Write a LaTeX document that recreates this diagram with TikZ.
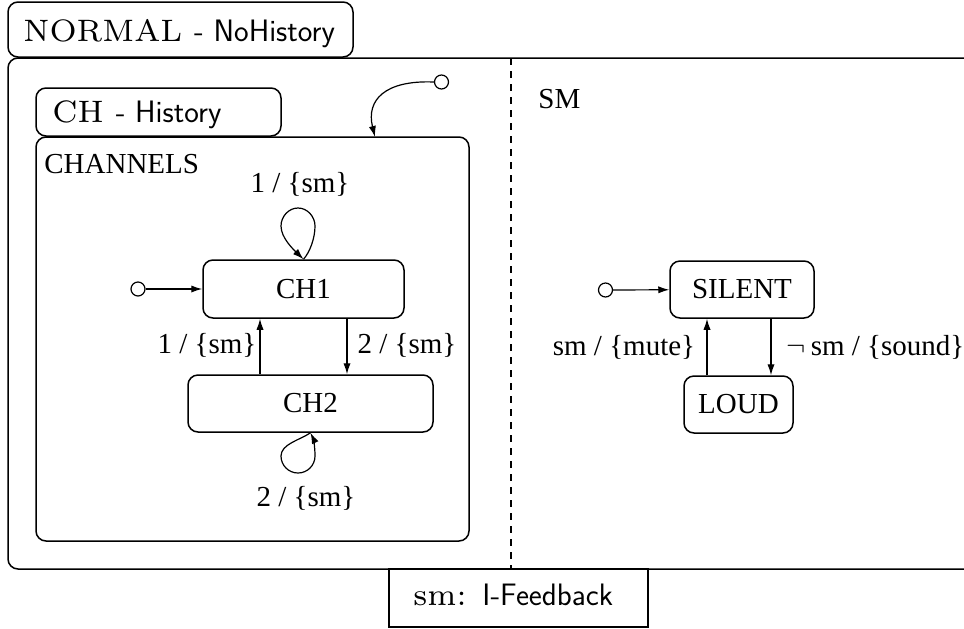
\documentclass[tikz,border=0pt]{standalone}
\usepackage{fontspec}
\newfontfamily\tnr{Liberation Serif}
\newfontfamily\cmrs{lmroman7-regular.otf}
\usetikzlibrary{arrows.meta}
\newcommand{\lblfont}{\tnr\fontsize{14.5}{17}\selectfont}
\newcommand{\ttlfont}{\fontsize{15.5}{19}\selectfont}
\tikzset{
  box/.style={draw, rounded corners=5pt, line width=0.75pt, inner sep=0pt},
  state/.style={box, font=\lblfont},
  initc/.style={draw, circle, minimum size=7pt, inner sep=0pt, line width=0.6pt},
  tr/.style={-{Latex[length=5.5pt,width=3.6pt]}, line width=0.6pt},
  lbl/.style={font=\lblfont, inner sep=0pt},
  ttl/.style={font=\ttlfont, inner sep=0pt, anchor=base west},
}
\begin{document}
\begin{tikzpicture}[x=0.5pt,y=-0.5pt]
\useasboundingbox (0,0) rectangle (964,628);
% outer boxes
\node[box, minimum width=172.5pt, minimum height=27.5pt] (normal) at (180.5,29.5) {};
\node[ttl] (normaltxt) at (23,41) {\cmrs NORMAL \sffamily - NoHistory};
\node[box, minimum width=496pt, minimum height=255.5pt] (outer) at (504,313.5) {};
\coordinate (dtop) at (511,58);
\coordinate (dbot) at (511,569);
\draw[dash pattern=on 3.5pt off 3pt, line width=0.6pt] (dtop) -- (dbot);
% left region
\node[box, minimum width=122.5pt, minimum height=24pt] (chlbl) at (158.5,112) {};
\node[ttl] (chtxt) at (52,122) {\cmrs CH \sffamily - History};
\node[box, minimum width=216.5pt, minimum height=202pt] (channels) at (252.5,339) {};
\node[lbl, anchor=base west] (chname) at (44,173) {CHANNELS};
\node[initc] (i1) at (441.5,82) {};
\coordinate (chentry) at (375,137);
\draw[tr] (i1.west) .. controls (385,80) and (366,100) .. (chentry);
\node[state, minimum width=100.5pt, minimum height=29pt] (ch1) at (303.5,289) {CH1};
\node[state, minimum width=122.5pt, minimum height=28.5pt] (ch2) at (310.5,403.5) {CH2};
\node[initc] (i2) at (138,289) {};
\draw[tr] (i2) -- (ch1);
\coordinate (xa) at (260,0);
\coordinate (xb) at (347,0);
\draw[tr] (ch2.north -| xa) -- (ch1.south -| xa);
\draw[tr] (ch1.south -| xb) -- (ch2.north -| xb);
\draw[tr] (ch1.north) .. controls (310,252) and (315,238) .. (315,226)
   .. controls (315,216.6) and (307.4,208) .. (298,208)
   .. controls (288.6,208) and (281,216.6) .. (281,226)
   .. controls (281,238) and (294,250) .. (ch1.north);
\draw[tr] (ch2.south) .. controls (300,440) and (281,444) .. (281,456)
   .. controls (281,465.4) and (288.6,473) .. (298,473)
   .. controls (307.4,473) and (315,465.4) .. (315,456)
   .. controls (315,446) and (313,438) .. (ch2.south);
\node[lbl] (l1) at (300,184) {1 / \{sm\}};
\node[lbl] (l2) at (306,498) {2 / \{sm\}};
\node[lbl] (l3) at (207,345) {1 / \{sm\}};
\node[lbl] (l4) at (407,345) {2 / \{sm\}};
% right region
\node[lbl, anchor=base west] (smname) at (538,108) {SM};
\node[state, minimum width=72pt, minimum height=28.5pt] (silent) at (742,289.5) {SILENT};
\node[state, minimum width=54.5pt, minimum height=28.5pt] (loud) at (738.5,404.5) {LOUD};
\node[initc] (i3) at (605.5,290) {};
\draw[tr] (i3) -- (silent);
\coordinate (xc) at (707,0);
\coordinate (xd) at (771,0);
\draw[tr] (loud.north -| xc) -- (silent.south -| xc);
\draw[tr] (silent.south -| xd) -- (loud.north -| xd);
\node[lbl] (l5) at (624,347) {sm / \{mute\}};
\node[lbl] (l6) at (875.5,347) {$\neg$\,sm / \{sound\}};
% bottom
\node[draw, line width=0.75pt, minimum width=129.5pt, minimum height=29pt, inner sep=0pt] (fb) at (518.5,598) {};
\node[ttl] (fbtxt) at (413,605) {\cmrs sm: \sffamily I-Feedback};
\end{tikzpicture}
\end{document}
